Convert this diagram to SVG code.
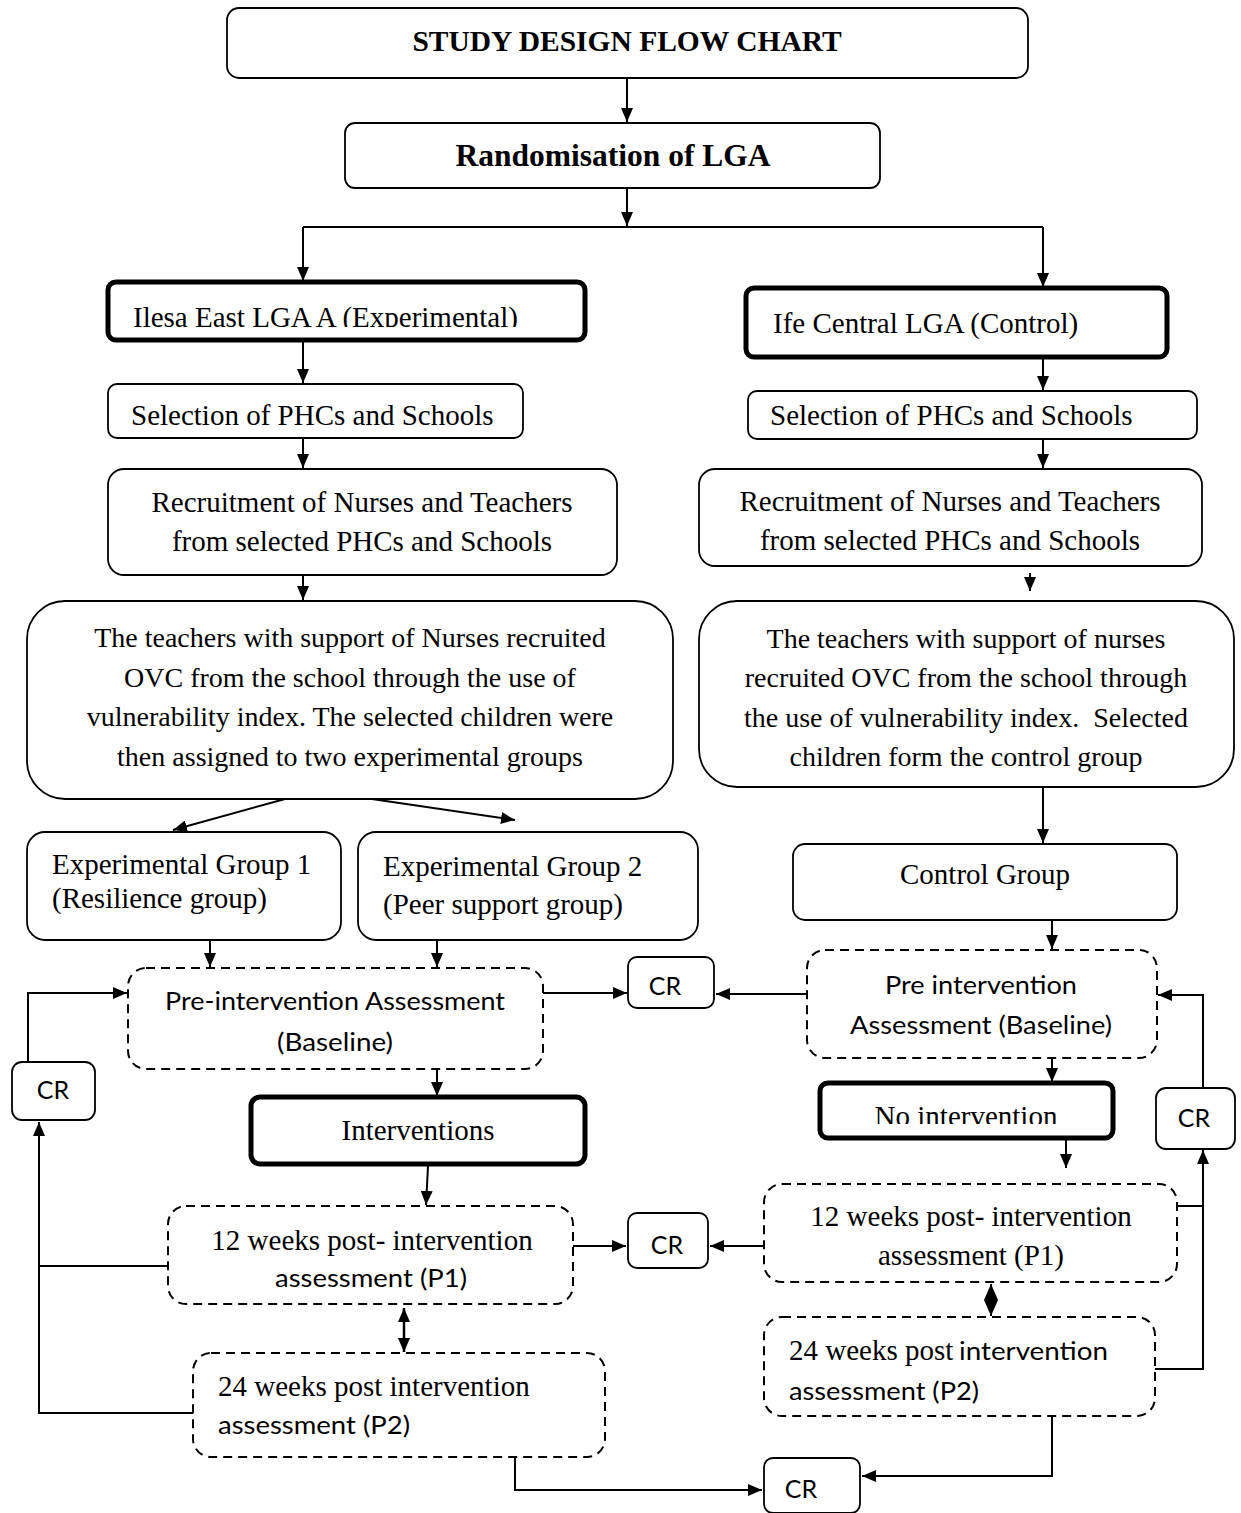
<svg xmlns="http://www.w3.org/2000/svg" width="1241" height="1513" viewBox="0 0 1241 1513">
<style>
.box{fill:#fff;stroke:#000;stroke-width:1.8}
.thick{fill:#fff;stroke:#000;stroke-width:5}
.dash{fill:#fff;stroke:#000;stroke-width:2;stroke-dasharray:9 6}
.ser{font-family:"Liberation Serif","Times New Roman",serif;font-size:29px;fill:#000}
.big{font-family:"Liberation Serif","Times New Roman",serif;font-size:28px;fill:#000}
.bold{font-family:"Liberation Serif","Times New Roman",serif;font-weight:bold;fill:#000}
.sans{font-family:Lato,"Open Sans",sans-serif;font-size:25px;fill:#000}
.c{text-anchor:middle}
.ln{fill:none;stroke:#000;stroke-width:2}
.arr{fill:none;stroke:#000;stroke-width:2;marker-end:url(#ah)}
.dbl{fill:none;stroke:#000;stroke-width:2.5;marker-end:url(#ah);marker-start:url(#ah)}
</style>
<defs>
<marker id="ah" markerWidth="14" markerHeight="12" refX="14" refY="6" orient="auto-start-reverse" markerUnits="userSpaceOnUse">
<path d="M0,0 L14,6 L0,12 z" fill="#000"/>
</marker>
<marker id="dh" markerWidth="16" markerHeight="14" refX="16" refY="7" orient="auto-start-reverse" markerUnits="userSpaceOnUse">
<path d="M0,0 L16,7 L0,14 z" fill="#000"/>
</marker>
<clipPath id="clipIlesa"><rect x="110" y="284" width="470" height="43"/></clipPath>
<clipPath id="clipNoInt"><rect x="822" y="1085" width="288" height="39"/></clipPath>
</defs>

<g id="connectors">
<line class="arr" x1="627" y1="78" x2="627" y2="122"/>
<line class="arr" x1="627" y1="188" x2="627" y2="226"/>
<polyline class="ln" points="303,227 1043,227"/>
<line class="arr" x1="303" y1="227" x2="303" y2="281"/>
<line class="arr" x1="1043" y1="227" x2="1043" y2="287"/>
<line class="arr" x1="303" y1="341" x2="303" y2="383"/>
<line class="arr" x1="1043" y1="358" x2="1043" y2="390"/>
<line class="arr" x1="303" y1="438" x2="303" y2="468"/>
<line class="arr" x1="1043" y1="439" x2="1043" y2="468"/>
<line class="arr" x1="303" y1="575" x2="303" y2="600"/>
<line class="arr" x1="1030" y1="573" x2="1030" y2="591"/>
<line class="arr" x1="285" y1="799" x2="173" y2="830"/>
<line class="arr" x1="372" y1="799" x2="515" y2="820"/>
<line class="arr" x1="1043" y1="787" x2="1043" y2="843"/>
<line class="arr" x1="210" y1="940" x2="210" y2="967"/>
<line class="arr" x1="437" y1="940" x2="437" y2="967"/>
<line class="arr" x1="1052" y1="920" x2="1052" y2="949"/>
<line class="arr" x1="543" y1="993" x2="627" y2="993"/>
<line class="arr" x1="807" y1="994" x2="716" y2="994"/>
<polyline class="arr" points="28,1062 28,993 127,993"/>
<polyline class="arr" points="1203,1088 1203,995 1158,995"/>
<line class="arr" x1="437" y1="1069" x2="437" y2="1096"/>
<line class="arr" x1="1052" y1="1058" x2="1052" y2="1082"/>
<line class="arr" x1="428" y1="1166" x2="426" y2="1205"/>
<line class="arr" x1="1066" y1="1140" x2="1066" y2="1168"/>
<line class="arr" x1="573" y1="1246" x2="626" y2="1246"/>
<line class="arr" x1="764" y1="1246" x2="710" y2="1246"/>
<line class="ln" x1="1177" y1="1206" x2="1203" y2="1206"/>
<polyline class="ln" points="1155,1369 1203,1369 1203,1206"/>
<line class="arr" x1="1203" y1="1206" x2="1203" y2="1150"/>
<line x1="991" y1="1284" x2="991" y2="1316" style="stroke:#000;stroke-width:2;marker-start:url(#dh);marker-end:url(#dh)"/>
<line class="dbl" x1="404" y1="1308" x2="404" y2="1352"/>
<polyline class="ln" points="193,1413 39,1413 39,1266 168,1266"/>
<line class="arr" x1="39" y1="1266" x2="39" y2="1122"/>
<polyline class="arr" points="1052,1416 1052,1476 862,1476"/>
<polyline class="arr" points="515,1457 515,1490 762,1490"/>
</g>

<g id="n-title">
<rect class="box" x="227" y="8" width="801" height="70" rx="12"/>
<text class="bold c" x="627" y="51" font-size="29.5">STUDY DESIGN FLOW CHART</text>
</g>
<g id="n-random">
<rect class="box" x="345" y="123" width="535" height="65" rx="10"/>
<text class="bold c" x="613" y="166" font-size="31.5">Randomisation of LGA</text>
</g>
<g id="n-ilesa">
<rect class="thick" x="108" y="282" width="477" height="58" rx="8"/>
<text class="ser" x="133" y="327" clip-path="url(#clipIlesa)">Ilesa East LGA A (Experimental)</text>
</g>
<g id="n-ife">
<rect class="thick" x="746" y="288" width="421" height="69" rx="8"/>
<text class="ser" x="773" y="333">Ife Central LGA (Control)</text>
</g>
<g id="n-sel-left">
<rect class="box" x="108" y="384" width="415" height="54" rx="9"/>
<text class="ser" x="131" y="425">Selection of PHCs and Schools</text>
</g>
<g id="n-sel-right">
<rect class="box" x="748" y="391" width="449" height="48" rx="9"/>
<text class="ser" x="770" y="425">Selection of PHCs and Schools</text>
</g>
<g id="n-rec-left">
<rect class="box" x="108" y="469" width="509" height="106" rx="16"/>
<text class="ser c" x="362" y="512">Recruitment of Nurses and Teachers</text>
<text class="ser c" x="362" y="551">from selected PHCs and Schools</text>
</g>
<g id="n-rec-right">
<rect class="box" x="699" y="469" width="503" height="97" rx="16"/>
<text class="ser c" x="950" y="511">Recruitment of Nurses and Teachers</text>
<text class="ser c" x="950" y="550">from selected PHCs and Schools</text>
</g>
<g id="n-ovc-left">
<rect class="box" x="27" y="601" width="646" height="198" rx="38"/>
<text class="big c" x="350" y="647">The teachers with support of Nurses recruited</text>
<text class="big c" x="350" y="687">OVC from the school through the use of</text>
<text class="big c" x="350" y="726">vulnerability index. The selected children were</text>
<text class="big c" x="350" y="766">then assigned to two experimental groups</text>
</g>
<g id="n-ovc-right">
<rect class="box" x="699" y="601" width="535" height="186" rx="38"/>
<text class="big c" x="966" y="648">The teachers with support of nurses</text>
<text class="big c" x="966" y="687">recruited OVC from the school through</text>
<text class="big c" x="966" y="727" xml:space="preserve">the use of vulnerability index.  Selected</text>
<text class="big c" x="966" y="766">children form the control group</text>
</g>
<g id="n-exp1">
<rect class="box" x="27" y="832" width="314" height="108" rx="18"/>
<text class="ser" x="52" y="874">Experimental Group 1</text>
<text class="ser" x="52" y="908">(Resilience group)</text>
</g>
<g id="n-exp2">
<rect class="box" x="358" y="832" width="340" height="108" rx="18"/>
<text class="ser" x="383" y="876">Experimental Group 2</text>
<text class="ser" x="383" y="914">(Peer support group)</text>
</g>
<g id="n-control">
<rect class="box" x="793" y="844" width="384" height="76" rx="12"/>
<text class="ser c" x="985" y="884">Control Group</text>
</g>
<g id="n-pre-left">
<rect class="dash" x="128" y="968" width="415" height="101" rx="18"/>
<text class="sans c" x="335" y="1010" textLength="340" lengthAdjust="spacingAndGlyphs">Pre-intervention Assessment</text>
<text class="sans c" x="335" y="1051" textLength="116" lengthAdjust="spacingAndGlyphs">(Baseline)</text>
</g>
<g id="n-pre-right">
<rect class="dash" x="807" y="950" width="350" height="108" rx="18"/>
<text class="sans c" x="981" y="994" textLength="192" lengthAdjust="spacingAndGlyphs">Pre intervention</text>
<text class="sans c" x="981" y="1034" textLength="262" lengthAdjust="spacingAndGlyphs">Assessment (Baseline)</text>
</g>
<g id="n-cr-mid1">
<rect class="box" x="628" y="957" width="86" height="51" rx="9"/>
<text class="sans c" x="665" y="995">CR</text>
</g>
<g id="n-cr-left">
<rect class="box" x="12" y="1062" width="83" height="58" rx="10"/>
<text class="sans c" x="53" y="1099">CR</text>
</g>
<g id="n-cr-right">
<rect class="box" x="1156" y="1088" width="79" height="61" rx="10"/>
<text class="sans c" x="1194" y="1127">CR</text>
</g>
<g id="n-interv">
<rect class="thick" x="251" y="1097" width="334" height="67" rx="9"/>
<text class="ser c" x="418" y="1140">Interventions</text>
</g>
<g id="n-noint">
<rect class="thick" x="820" y="1083" width="293" height="55" rx="8"/>
<text class="ser c" x="966" y="1126" clip-path="url(#clipNoInt)">No intervention</text>
</g>
<g id="n-12-left">
<rect class="dash" x="168" y="1206" width="405" height="98" rx="18"/>
<text class="ser c" x="372" y="1250">12 weeks post- intervention</text>
<text class="sans c" x="371" y="1287" textLength="192" lengthAdjust="spacingAndGlyphs">assessment (P1)</text>
</g>
<g id="n-12-right">
<rect class="dash" x="764" y="1184" width="413" height="98" rx="18"/>
<text class="ser c" x="971" y="1226">12 weeks post- intervention</text>
<text class="ser c" x="971" y="1265">assessment (P1)</text>
</g>
<g id="n-cr-mid2">
<rect class="box" x="628" y="1213" width="80" height="55" rx="9"/>
<text class="sans c" x="667" y="1254">CR</text>
</g>
<g id="n-24-left">
<rect class="dash" x="193" y="1353" width="412" height="104" rx="18"/>
<text class="ser" x="218" y="1396">24 weeks post intervention</text>
<text class="sans" x="218" y="1434" textLength="192" lengthAdjust="spacingAndGlyphs">assessment (P2)</text>
</g>
<g id="n-24-right">
<rect class="dash" x="764" y="1317" width="391" height="99" rx="18"/>
<text class="ser" x="789" y="1360">24 weeks post</text>
<text class="sans" x="959" y="1360" textLength="149" lengthAdjust="spacingAndGlyphs">intervention</text>
<text class="sans" x="789" y="1400" textLength="190" lengthAdjust="spacingAndGlyphs">assessment (P2)</text>
</g>
<g id="n-cr-bottom">
<rect class="box" x="764" y="1458" width="96" height="55" rx="9"/>
<text class="sans c" x="801" y="1498">CR</text>
</g>
</svg>
